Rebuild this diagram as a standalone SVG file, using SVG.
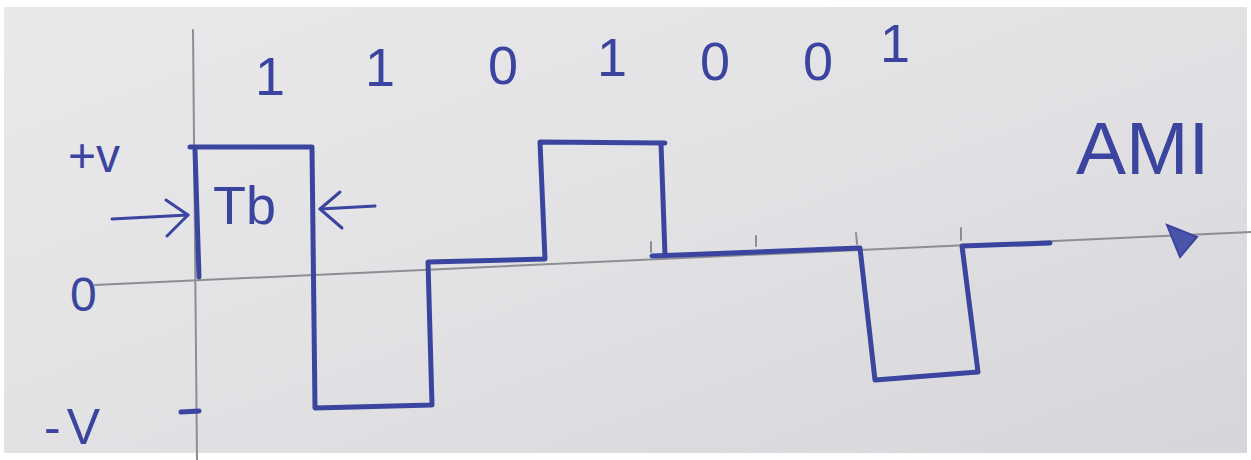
<svg xmlns="http://www.w3.org/2000/svg" width="1251" height="460" viewBox="0 0 1251 460">
<defs>
<linearGradient id="paper" x1="0" y1="0" x2="1" y2="1">
<stop offset="0" stop-color="#e9e9eb"/>
<stop offset="0.5" stop-color="#e2e2e5"/>
<stop offset="1" stop-color="#d6d6da"/>
</linearGradient>
<style>
.pencil{stroke:#8e8e92;stroke-width:2;fill:none;stroke-linecap:round}
.ink{stroke:#3b45a0;stroke-width:5;fill:none;stroke-linecap:round;stroke-linejoin:round}
.thin{stroke:#3b45a0;stroke-width:3;fill:none;stroke-linecap:round;stroke-linejoin:round}
.lbl{font-family:"Liberation Sans",Arial,sans-serif;fill:#3b45a0}
.bit{font-size:54px}
</style>
</defs>
<rect x="0" y="0" width="1251" height="460" fill="#ffffff"/>
<rect x="4" y="7" width="1243" height="446" fill="url(#paper)"/>
<g id="axes">
<line class="pencil" x1="193" y1="30" x2="197" y2="460"/>
<line class="pencil" x1="95" y1="285" x2="1251" y2="232"/>
<polygon points="1167,225 1197,237 1180,257" fill="#4a54a8" stroke="#3b45a0" stroke-width="2"/>
<line class="pencil" x1="651" y1="242" x2="651" y2="252"/>
<line class="pencil" x1="756" y1="236" x2="756" y2="246"/>
<line class="pencil" x1="856" y1="233" x2="857" y2="244"/>
<line class="pencil" x1="961" y1="228" x2="961" y2="240"/>
</g>
<g id="waveform">
<polyline class="ink" points="199,277 195,150"/>
<polyline class="ink" points="190,147 312,147 315,408 432,405 428,262 545,259 540,142 665,143"/>
<polyline class="ink" points="661,143 665,255"/>
<polyline class="ink" points="652,256 860,248 875,380 978,372 962,246 1050,243"/>
<line class="ink" x1="181" y1="412" x2="199" y2="411"/>
</g>
<g id="tb-arrows">
<line class="thin" x1="112" y1="219" x2="188" y2="215"/>
<polyline class="thin" points="166,200 188,215 167,236"/>
<line class="thin" x1="375" y1="206" x2="320" y2="209"/>
<polyline class="thin" points="340,192 320,209 342,228"/>
</g>
<g id="labels">
<text class="lbl" x="68" y="172" font-size="48">+v</text>
<text class="lbl" x="213" y="224" font-size="54">Tb</text>
<text class="lbl" x="70" y="311" font-size="48">0</text>
<text class="lbl" x="44" y="444" font-size="50" letter-spacing="6">-V</text>
<text class="lbl" x="1076" y="174" font-size="75">AMI</text>
</g>
<g id="bits">
<text class="lbl bit" x="255" y="95">1</text>
<text class="lbl bit" x="365" y="86">1</text>
<text class="lbl bit" x="488" y="84">0</text>
<text class="lbl bit" x="597" y="76">1</text>
<text class="lbl bit" x="700" y="80">0</text>
<text class="lbl bit" x="803" y="80">0</text>
<text class="lbl bit" x="880" y="62">1</text>
</g>
</svg>
